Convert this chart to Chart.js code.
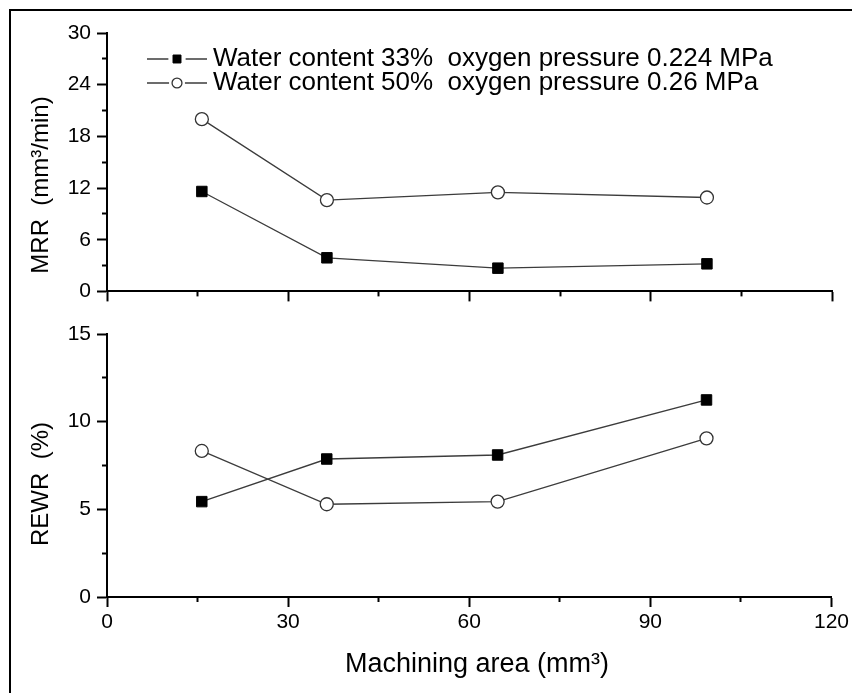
<!DOCTYPE html>
<html><head><meta charset="utf-8">
<script src="https://cdn.jsdelivr.net/npm/chart.js@4.4.1/dist/chart.umd.min.js"></script>
<style>
html,body{margin:0;padding:0;background:#fff;overflow:hidden;width:852px;height:693px;}
#frame{position:absolute;left:9px;top:9px;width:900px;height:800px;border:2px solid #000;box-sizing:border-box;}
.wrap{position:absolute;left:0;}
</style></head><body>
<div id="frame"></div>
<div class="wrap" style="top:0"><canvas id="topChart" width="852" height="310"></canvas></div>
<div class="wrap" style="top:310px"><canvas id="botChart" width="852" height="383"></canvas></div>
<script>
// ---- data ----
const machiningArea = [15.7, 36.4, 64.7, 99.3];
const mrrWater33 = [11.6, 3.9, 2.7, 3.2];
const mrrWater50 = [20.0, 10.6, 11.5, 10.9];
const rewrWater33 = [5.44, 7.87, 8.1, 11.24];
const rewrWater50 = [8.33, 5.29, 5.44, 9.05];
const seriesLabels = ['Water content 33%  oxygen pressure 0.224 MPa', 'Water content 50%  oxygen pressure 0.26 MPa'];
const xTicksMajor = [0, 30, 60, 90, 120];
const mrrTicks = [0, 6, 12, 18, 24, 30];
const rewrTicks = [0, 5, 10, 15];

const FONT = '"Liberation Sans", Arial, sans-serif';

const lineLegend = {
  id: 'lineLegend',
  afterDraw(chart, args, o) {
    if (!o || !o.display) return;
    const ctx = chart.ctx;
    chart.data.datasets.forEach((ds, i) => {
      const y = o.y + i * o.rowGap;
      const cx = o.x + o.lineLength / 2;
      const r = ds.pointRadius * o.markerScale;
      ctx.save();
      ctx.strokeStyle = ds.borderColor; ctx.lineWidth = ds.borderWidth;
      ctx.beginPath();
      ctx.moveTo(o.x, y); ctx.lineTo(cx - r - o.gap, y);
      ctx.moveTo(cx + r + o.gap, y); ctx.lineTo(o.x + o.lineLength, y);
      ctx.stroke();
      ctx.fillStyle = ds.pointBackgroundColor; ctx.strokeStyle = ds.pointBorderColor; ctx.lineWidth = ds.pointBorderWidth;
      Chart.helpers.drawPoint(ctx, {pointStyle: ds.pointStyle, radius: r, borderWidth: ds.pointBorderWidth, rotation: 0}, cx, y);
      ctx.fillStyle = '#000'; ctx.font = o.font; ctx.textBaseline = 'middle'; ctx.textAlign = 'left';
      ctx.fillText(ds.label, o.textX, y);
      ctx.restore();
    });
  }
};
const axisTitles = {
  id: 'axisTitles',
  afterDraw(chart, args, o) {
    if (!o || !o.items) return;
    const ctx = chart.ctx;
    o.items.forEach(t => {
      ctx.save();
      ctx.translate(t.x, t.y); ctx.rotate(t.rotation || 0);
      ctx.font = t.font; ctx.fillStyle = '#000'; ctx.textAlign = 'center'; ctx.textBaseline = 'middle';
      ctx.fillText(t.text, 0, 0);
      ctx.restore();
    });
  }
};

function pts(ys) { return machiningArea.map((x, i) => ({x: x, y: ys[i]})); }
function datasets(a, b) {
  return [
    {label: seriesLabels[0], data: pts(a), borderColor: '#3c3c3c', borderWidth: 1.3,
     pointStyle: 'rect', pointRadius: 7.4, pointHoverRadius: 7.4, pointBackgroundColor: '#000', pointBorderColor: '#000', pointBorderWidth: 1, tension: 0},
    {label: seriesLabels[1], data: pts(b), borderColor: '#3c3c3c', borderWidth: 1.3,
     pointStyle: 'circle', pointRadius: 6.5, pointHoverRadius: 6.5, pointBackgroundColor: '#fff', pointBorderColor: '#333', pointBorderWidth: 1.3, tension: 0}
  ];
}
const gridMajor = {drawOnChartArea: false, drawTicks: true, tickLength: 10, tickWidth: 2, tickColor: '#000'};
const gridMinor = {drawOnChartArea: false, drawTicks: true, tickLength: 5, tickWidth: 2, tickColor: '#000'};
const border = {color: '#000', width: 2};
const tickFont = {family: FONT, size: 21};

function ticksFrom(list) { return (scale) => { scale.ticks = list.map(v => ({value: v})); }; }
function minorFrom(list) {
  return (scale) => {
    const out = [];
    for (let i = 0; i < list.length - 1; i++) out.push({value: (list[i] + list[i + 1]) / 2});
    scale.ticks = out;
  };
}

function makeScales(yTicks, showX, xHeight) {
  const ymax = yTicks[yTicks.length - 1];
  return {
    x: {type: 'linear', position: 'bottom', weight: 1, min: 0, max: 120, afterBuildTicks: ticksFrom(xTicksMajor),
        ticks: {display: showX, font: tickFont, color: '#000', padding: 3, maxRotation: 0, autoSkip: false},
        grid: gridMajor, border: border, afterFit: s => { s.height = xHeight; }},
    xMinor: {type: 'linear', position: 'bottom', weight: 0, min: 0, max: 120, afterBuildTicks: minorFrom(xTicksMajor),
        ticks: {display: false}, grid: gridMinor, border: border, afterFit: s => { s.height = 0; }},
    y: {type: 'linear', position: 'left', weight: 1, min: 0, max: ymax, afterBuildTicks: ticksFrom(yTicks),
        ticks: {font: tickFont, color: '#000', padding: 6, autoSkip: false},
        grid: gridMajor, border: border, afterFit: s => { s.width = 107; }},
    yMinor: {type: 'linear', position: 'left', weight: 0, min: 0, max: ymax, afterBuildTicks: minorFrom(yTicks),
        ticks: {display: false}, grid: gridMinor, border: border, afterFit: s => { s.width = 0; }}
  };
}

new Chart(document.getElementById('topChart'), {
  type: 'line',
  data: {datasets: datasets(mrrWater33, mrrWater50)},
  plugins: [lineLegend, axisTitles],
  options: {
    responsive: false, animation: false, events: [],
    layout: {padding: {left: 0, top: 33, right: 20, bottom: 0}},
    scales: makeScales(mrrTicks, false, 14),
    plugins: {
      legend: {display: false}, tooltip: {enabled: false},
      lineLegend: {display: true, x: 147, y: 59, rowGap: 24, lineLength: 60, gap: 3, markerScale: 0.76, textX: 213, font: '26px ' + FONT},
      axisTitles: {items: [{text: 'MRR  (mm³/min)', x: 41, y: 185, rotation: -Math.PI / 2, font: '24px ' + FONT}]}
    }
  }
});

new Chart(document.getElementById('botChart'), {
  type: 'line',
  data: {datasets: datasets(rewrWater33, rewrWater50)},
  plugins: [axisTitles],
  options: {
    responsive: false, animation: false, events: [],
    layout: {padding: {left: 0, top: 24, right: 20, bottom: 0}},
    scales: makeScales(rewrTicks, true, 96),
    plugins: {
      legend: {display: false}, tooltip: {enabled: false},
      axisTitles: {items: [
        {text: 'REWR  (%)', x: 41, y: 174, rotation: -Math.PI / 2, font: '24px ' + FONT},
        {text: 'Machining area (mm³)', x: 477, y: 355, rotation: 0, font: '27px ' + FONT}
      ]}
    }
  }
});
</script>
</body></html>
